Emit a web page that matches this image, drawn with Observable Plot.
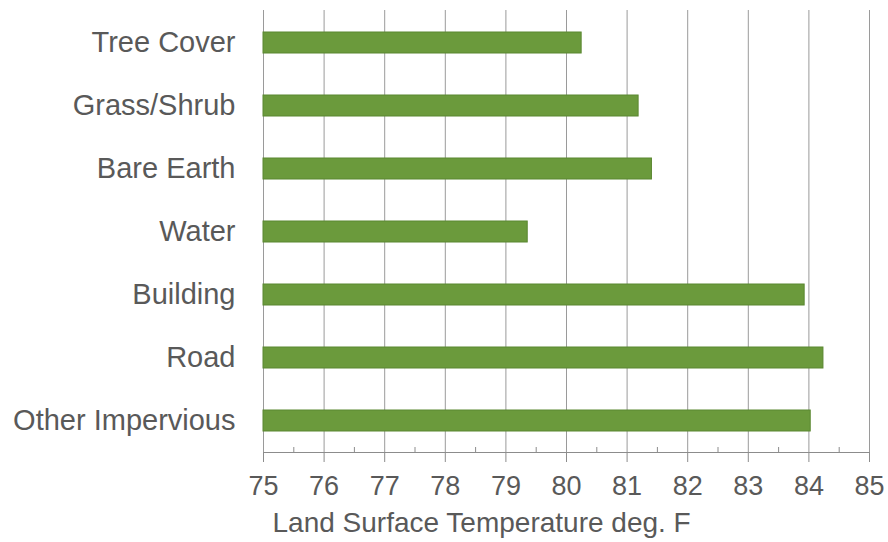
<!DOCTYPE html>
<html>
<head>
<meta charset="utf-8">
<script src="https://cdn.jsdelivr.net/npm/d3@7"></script>
<script src="https://cdn.jsdelivr.net/npm/@observablehq/plot@0.6"></script>
<style>
  html, body { margin: 0; padding: 0; background: #fff; }
  #chart svg { display: block; }
</style>
</head>
<body>
<div id="chart"></div>
<script>
const categories = ["Tree Cover", "Grass/Shrub", "Bare Earth", "Water", "Building", "Road", "Other Impervious"];
const temperatures = [80.25, 81.19, 81.41, 79.36, 83.93, 84.24, 84.03];
const xTicks = [75, 76, 77, 78, 79, 80, 81, 82, 83, 84, 85];
const xMinorTicks = [75.5, 76.5, 77.5, 78.5, 79.5, 80.5, 81.5, 82.5, 83.5, 84.5];
const xTitle = "Land Surface Temperature deg. F";

const data = categories.map((c, i) => ({category: c, value: temperatures[i]}));

const W = 888, H = 542;
const mTop = 10, mBottom = 90;
const frameH = H - mTop - mBottom;
const textColor = "#595959";
const fontFamily = "'Liberation Sans', Arial, sans-serif";

const chart = Plot.plot({
  width: W,
  height: H,
  marginLeft: 263,
  marginRight: 19,
  marginTop: mTop,
  marginBottom: mBottom,
  style: {fontFamily, fontSize: "27px", color: textColor, background: "#fff"},
  x: {domain: [xTicks[0], xTicks[xTicks.length - 1]]},
  y: {domain: categories, paddingInner: 0.67, paddingOuter: 0.305},
  marks: [
    Plot.gridX(xTicks, {stroke: "#9a9a9a", strokeOpacity: 1, strokeWidth: 1}),
    Plot.barX(data, {
      y: "category",
      x1: () => xTicks[0],
      x2: "value",
      fill: "#6b9a3c",
      stroke: "#5b8731",
      strokeWidth: 1
    }),
    Plot.frame({anchor: "bottom", stroke: "#8c8c8c"}),
    Plot.tickX(xMinorTicks, {x: d => d, stroke: "#8c8c8c", insetTop: frameH - 5}),
    Plot.axisX({
      ticks: xTicks,
      tickSize: 10,
      tickPadding: 13,
      tickFormat: d => String(d),
      stroke: "#8c8c8c",
      fill: textColor,
      fontSize: 27,
      label: null
    }),
    Plot.axisY({
      tickSize: 0,
      tickPadding: 28,
      fill: textColor,
      fontSize: 29,
      label: null
    }),
    Plot.text([xTitle], {
      text: d => d,
      frameAnchor: "bottom-left",
      textAnchor: "start",
      lineAnchor: "middle",
      dx: 9,
      dy: 71,
      fill: textColor,
      fontSize: 28
    })
  ]
});

document.getElementById("chart").appendChild(chart);
</script>
</body>
</html>
